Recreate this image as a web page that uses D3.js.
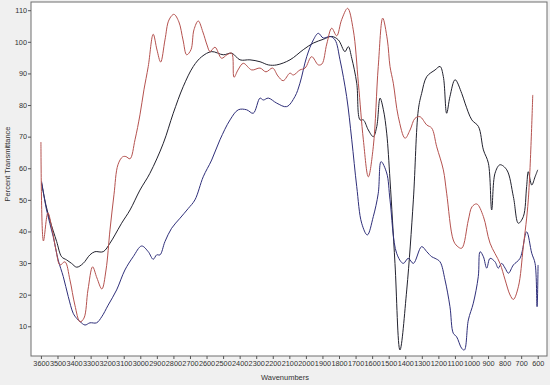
<!DOCTYPE html>
<html>
<head>
<meta charset="utf-8">
<script src="https://cdn.jsdelivr.net/npm/d3@7"></script>
<style>
  body { margin: 0; background: #f0f0f0; }
  svg { display: block; }
  .tick text { font-family: "Liberation Sans", Arial, sans-serif; font-size: 7.3px; fill: #333; }
  .line { fill: none; stroke-width: 1; }
</style>
</head>
<body>
<div id="content"></div>
<script>
// spectra, [wavenumber, %T]
const redSeries = [
  [3600, 68.3], [3585, 37.0], [3558, 45.9], [3534, 41.1], [3509, 34.1], [3485, 29.4],
  [3455, 30.4], [3425, 24.7], [3395, 16.7], [3364, 11.4], [3340, 12.6], [3316, 21.5],
  [3288, 28.8], [3262, 25.3], [3232, 21.8], [3207, 27.8], [3183, 40.5], [3159, 51.6],
  [3135, 61.1], [3107, 63.6], [3087, 63.7], [3062, 63.0], [3032, 69.0], [3002, 76.9],
  [2978, 84.8], [2952, 92.2], [2922, 102.4], [2899, 97.4], [2877, 93.6], [2851, 100.6],
  [2827, 106.9], [2797, 108.7], [2767, 106.3], [2742, 100.6], [2720, 95.9], [2694, 97.5],
  [2676, 103.8], [2650, 106.6], [2622, 103.1], [2597, 99.0], [2579, 96.9], [2549, 98.3],
  [2509, 94.8], [2477, 95.9], [2448, 96.4], [2434, 88.8], [2410, 91.1], [2378, 93.2],
  [2327, 91.1], [2277, 91.7], [2241, 90.5], [2201, 91.7], [2169, 89.2], [2137, 87.7],
  [2096, 90.1], [2076, 89.5], [2036, 91.1], [2005, 91.7], [1965, 95.3], [1925, 92.7],
  [1903, 93.0], [1874, 99.3], [1844, 104.3], [1814, 101.9], [1784, 107.0], [1748, 110.6],
  [1714, 103.8], [1683, 86.9], [1653, 69.0], [1623, 57.3], [1593, 66.8], [1563, 92.2],
  [1536, 107.5], [1508, 100.6], [1492, 92.2], [1472, 86.9], [1442, 76.3], [1401, 69.5],
  [1371, 72.1], [1341, 75.8], [1311, 76.3], [1270, 73.7], [1240, 72.7], [1210, 66.8],
  [1170, 59.5], [1150, 52.1], [1110, 37.3], [1087, 35.4], [1059, 34.7], [1019, 43.6],
  [997, 47.8], [968, 48.7], [928, 44.7], [888, 36.3], [828, 29.9], [797, 24.7],
  [767, 19.9], [747, 18.5], [717, 22.5], [687, 35.2], [657, 50.0], [630, 83.2]
]

const blackSeries = [
  [3596, 55.3], [3570, 48.4], [3546, 43.6], [3505, 36.8], [3475, 32.0], [3445, 31.0],
  [3415, 29.9], [3384, 28.7], [3345, 29.9], [3304, 32.6], [3274, 33.6], [3224, 33.6],
  [3183, 36.3], [3153, 38.9], [3113, 42.6], [3062, 46.8], [3002, 53.1], [2942, 58.4],
  [2861, 67.9], [2801, 77.4], [2741, 85.8], [2680, 92.2], [2629, 95.3], [2569, 96.9],
  [2499, 95.9], [2448, 96.4], [2398, 94.3], [2338, 94.3], [2277, 93.7], [2227, 92.7],
  [2176, 92.7], [2096, 94.3], [2016, 97.5], [1955, 99.6], [1895, 100.8], [1844, 101.7],
  [1804, 100.6], [1764, 96.9], [1744, 98.5], [1723, 94.8], [1693, 86.9], [1673, 75.3],
  [1653, 75.3], [1623, 72.1], [1593, 70.0], [1572, 73.2], [1552, 82.2], [1532, 78.5],
  [1512, 71.1], [1492, 56.3], [1462, 29.9], [1432, 2.5], [1391, 21.5], [1351, 50.0],
  [1321, 78.5], [1301, 83.7], [1270, 89.0], [1220, 91.1], [1190, 92.2], [1170, 89.0],
  [1150, 77.4], [1130, 82.7], [1099, 88.0], [1059, 83.7], [1039, 80.6], [998, 75.3],
  [958, 73.2], [928, 65.8], [898, 61.6], [878, 46.8], [858, 58.4], [828, 61.1],
  [787, 59.5], [747, 51.0], [717, 42.6], [687, 44.7], [667, 54.2], [657, 58.9],
  [636, 54.7], [616, 57.3], [600, 59.5]
]

const blueSeries = [
  [3596, 55.8], [3566, 46.8], [3526, 38.4], [3496, 31.0], [3465, 25.7], [3435, 19.4],
  [3405, 14.1], [3384, 12.5], [3364, 11.5], [3334, 10.4], [3304, 11.1], [3264, 11.1],
  [3233, 13.0], [3194, 16.7], [3143, 21.5], [3093, 27.8], [3043, 32.0], [2992, 35.4],
  [2952, 33.6], [2922, 31.2], [2901, 32.6], [2881, 32.6], [2851, 36.8], [2811, 41.0],
  [2760, 44.2], [2710, 47.3], [2670, 50.0], [2620, 57.3], [2569, 62.6], [2519, 69.0],
  [2458, 75.3], [2408, 78.5], [2358, 78.5], [2318, 77.4], [2277, 82.2], [2257, 81.6],
  [2227, 82.2], [2176, 80.6], [2116, 79.5], [2066, 82.7], [2036, 86.9], [1995, 95.3],
  [1955, 100.6], [1925, 102.7], [1895, 101.2], [1854, 101.7], [1824, 100.6], [1794, 94.3],
  [1754, 82.7], [1723, 69.0], [1693, 54.2], [1663, 42.6], [1629, 38.9], [1593, 44.7],
  [1563, 52.1], [1546, 62.1], [1512, 58.5], [1492, 50.0], [1452, 33.1], [1412, 29.9],
  [1382, 31.5], [1351, 29.9], [1301, 35.2], [1270, 33.6], [1240, 32.0], [1220, 31.5],
  [1190, 30.4], [1160, 24.7], [1130, 16.2], [1110, 7.8], [1090, 6.7], [1059, 3.0],
  [1043, 2.5], [1019, 12.0], [989, 17.3], [959, 25.7], [948, 33.6], [928, 32.0],
  [908, 28.4], [888, 31.5], [858, 30.4], [838, 28.4], [818, 29.9], [797, 28.4],
  [777, 26.8], [747, 29.4], [707, 31.5], [667, 39.9], [636, 33.1], [616, 29.9],
  [604, 16.2], [598, 29.4]
]

const xTicks = d3.range(3600, 599, -100)
const yTicks = d3.range(10, 111, 10)


const margin = {top: 2, right: 3, bottom: 29, left: 31}
const outerWidth = 550
const outerHeight = 385
const width = outerWidth - margin.left - margin.right
const height = outerHeight - margin.top - margin.bottom

const svg = d3.select("#content").append("svg")
    .attr("width", outerWidth)
    .attr("height", outerHeight)

const wrapper = svg.append("g")
    .attr("transform", `translate(${margin.left}, ${margin.top})`)

// plot background + frame
wrapper.append("rect")
    .attr("width", width)
    .attr("height", height)
    .style("fill", "#fff")
    .style("stroke", "#6e6e6e")
    .style("stroke-width", 1)


// scales (wavenumbers run right to left)
const xScale = d3.scaleLinear()
    .domain([3660, 544])
    .range([0, width])

const yScale = d3.scaleLinear()
    .domain([0.6, 112.6])
    .range([height, 0])


// axes
const xAxis = d3.axisBottom(xScale)
    .tickValues(xTicks)
    .tickSize(3)
    .tickPadding(2)
    .tickFormat(d3.format("d"))
const gx = wrapper.append("g")
    .attr("transform", `translate(0, ${height})`)
    .call(xAxis)

const yAxis = d3.axisLeft(yScale)
    .tickValues(yTicks)
    .tickSize(3)
    .tickPadding(1)
    .tickFormat(d3.format("d"))
const gy = wrapper.append("g")
    .call(yAxis)

gx.select(".domain").remove()
gy.select(".domain").remove()
svg.selectAll(".tick line").style("stroke", "#555")

wrapper.append("text")
    .attr("x", width / 2 - 4)
    .attr("y", height + 24)
    .attr("text-anchor", "middle")
    .style("font-family", "Liberation Sans, Arial, sans-serif")
    .style("font-size", "7.5px")
    .style("fill", "#333")
    .text("Wavenumbers")

svg.append("text")
    .attr("transform", "translate(10, 164) rotate(-90)")
    .attr("text-anchor", "middle")
    .style("font-family", "Liberation Sans, Arial, sans-serif")
    .style("font-size", "7.5px")
    .style("fill", "#333")
    .text("Percent Transmittance")


// draw the spectra
const line = d3.line()
    .x(d => xScale(d[0]))
    .y(d => yScale(d[1]))
    .curve(d3.curveCatmullRom.alpha(0.5))

const series = [
  {data: blackSeries, color: "#22222e"},
  {data: blueSeries, color: "#2f2f7a"},
  {data: redSeries, color: "#b5524f"},
]

series.forEach(s => {
  wrapper.append("path")
      .datum(s.data)
      .attr("d", line)
      .attr("class", "line")
      .style("stroke", s.color)
})
</script>
</body>
</html>
